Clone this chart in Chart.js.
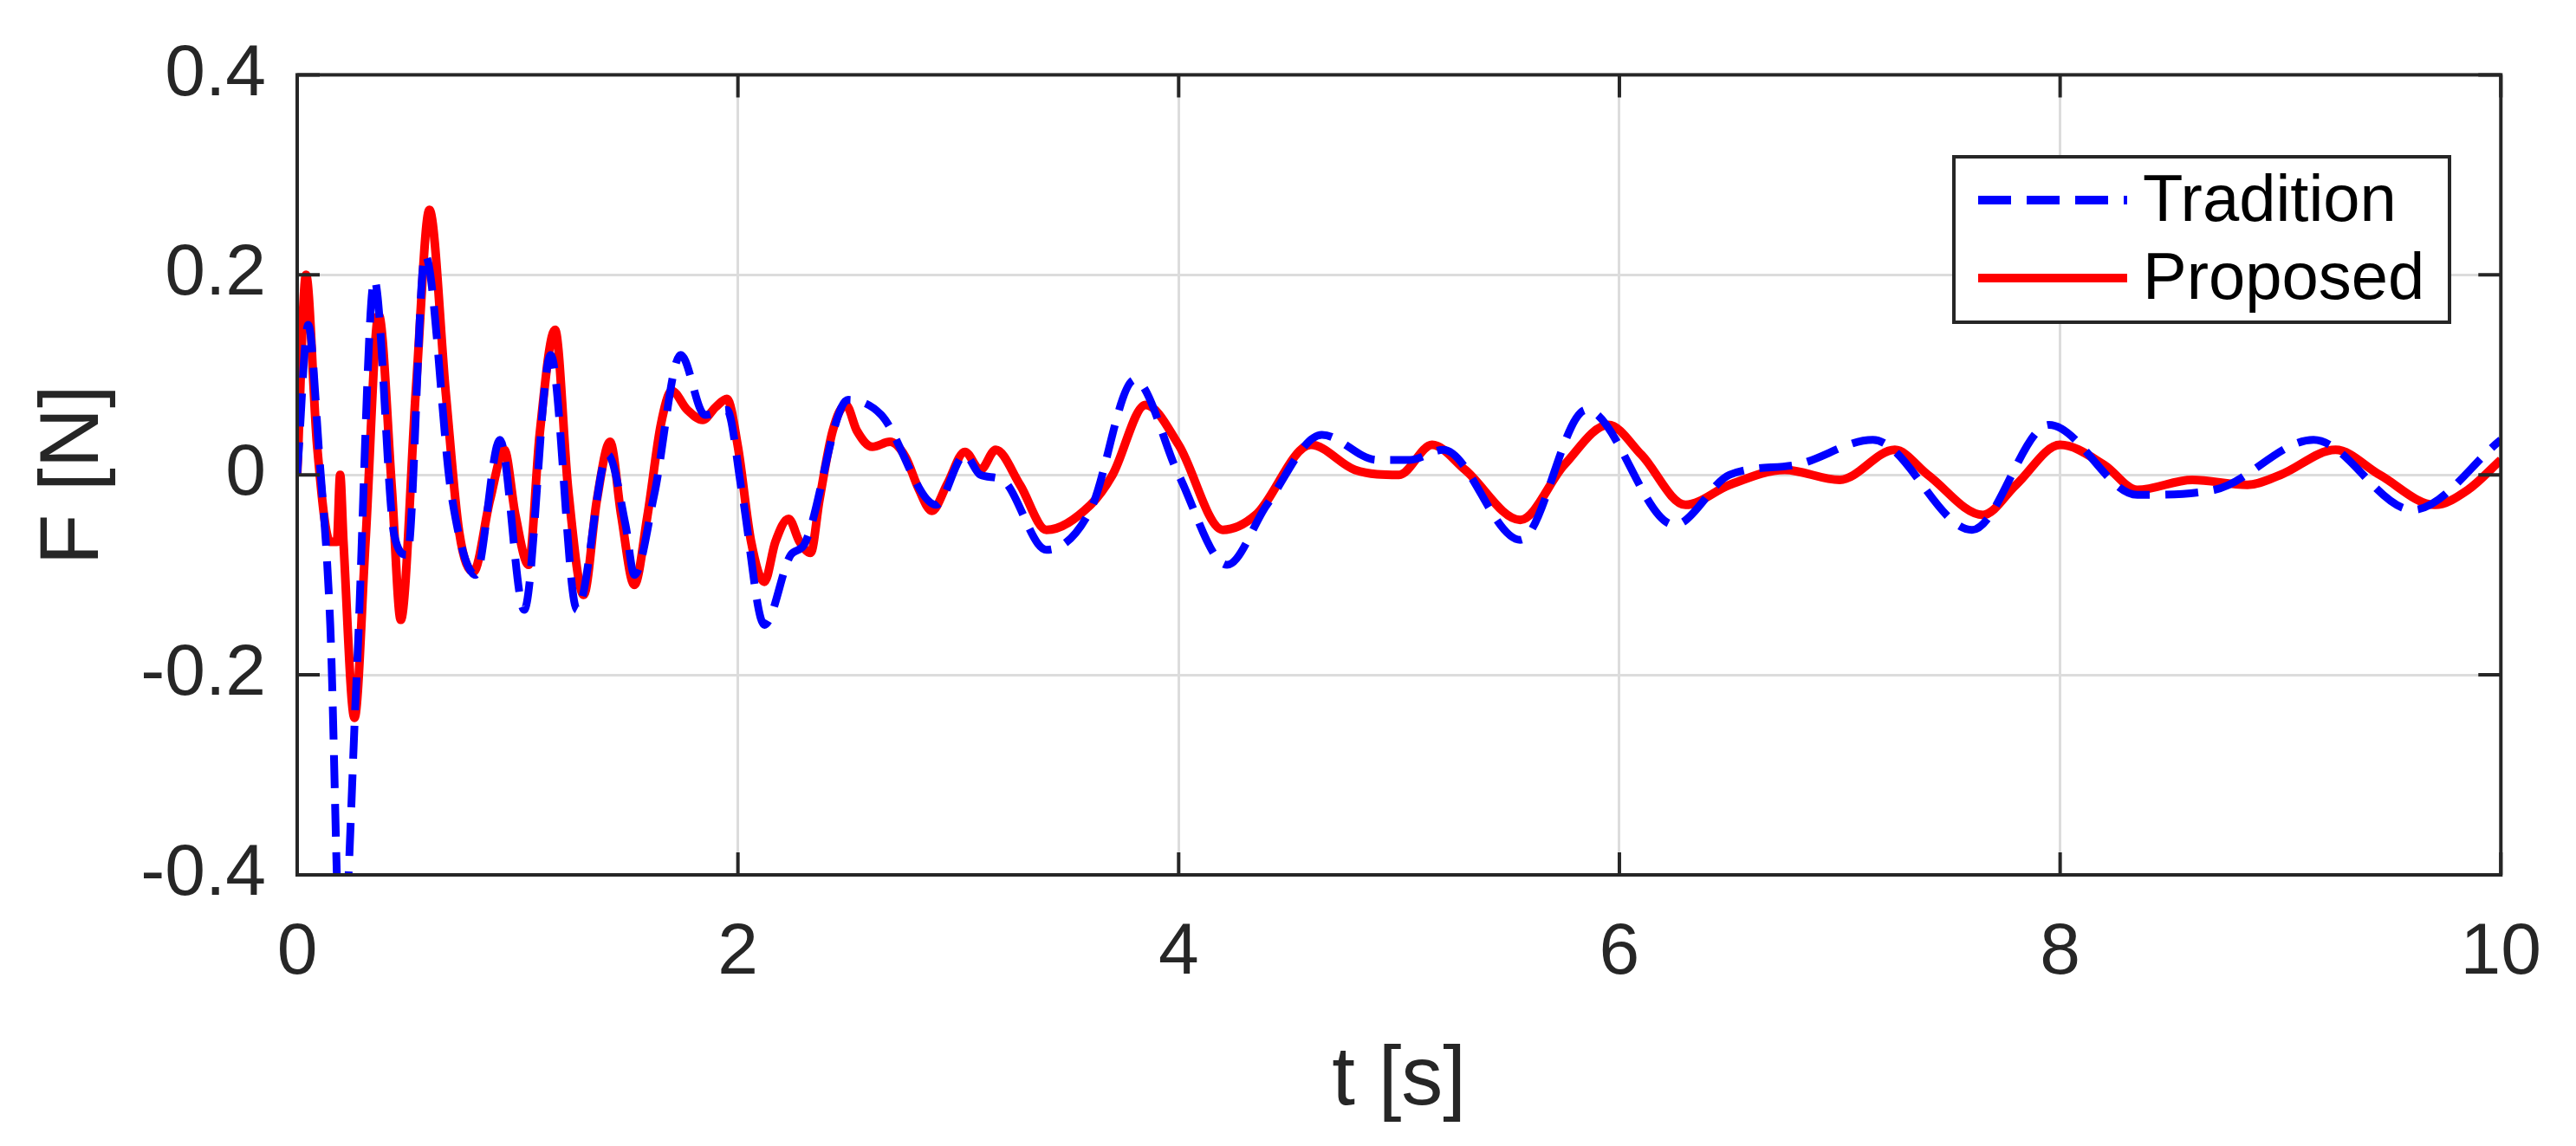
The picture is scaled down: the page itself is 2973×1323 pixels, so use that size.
<!DOCTYPE html>
<html>
<head>
<meta charset="utf-8">
<script src="https://cdn.jsdelivr.net/npm/chart.js@4/dist/chart.umd.min.js"></script>
<style>
  html, body { margin: 0; padding: 0; background: #fff; }
  #wrap { width: 2973px; height: 1323px; }
</style>
</head>
<body>
<div id="wrap"><canvas id="chart"></canvas></div>
<script>
// --- dados ---
const tProposed = [0, 0.04, 0.09, 0.15, 0.18, 0.195, 0.21, 0.26, 0.31, 0.37, 0.43, 0.47, 0.54, 0.60, 0.675, 0.735, 0.80, 0.875, 0.94, 0.99, 1.05, 1.10, 1.17, 1.23, 1.30, 1.36, 1.42, 1.47, 1.53, 1.59, 1.65, 1.70, 1.77, 1.84, 1.90, 1.95, 2.0, 2.06, 2.12, 2.17, 2.23, 2.28, 2.33, 2.37, 2.43, 2.49, 2.54, 2.61, 2.69, 2.76, 2.82, 2.88, 2.95, 3.03, 3.1, 3.17, 3.28, 3.4, 3.6, 3.7, 3.85, 4.0, 4.2, 4.35, 4.6, 4.8, 5.0, 5.15, 5.3, 5.55, 5.75, 5.95, 6.1, 6.3, 6.5, 6.75, 7.0, 7.25, 7.4, 7.65, 7.8, 8.0, 8.2, 8.35, 8.6, 8.85, 9.0, 9.25, 9.45, 9.7, 9.85, 10];
const fProposed = [0, 0.2, 0.03, -0.067, -0.067, 0, -0.067, -0.243, -0.067, 0.16, -0.015, -0.145, 0.09, 0.265, 0.08, -0.057, -0.097, -0.025, 0.025, -0.04, -0.09, 0.04, 0.145, -0.015, -0.12, -0.025, 0.033, -0.04, -0.11, -0.04, 0.05, 0.084, 0.065, 0.055, 0.068, 0.076, 0.028, -0.067, -0.107, -0.067, -0.044, -0.067, -0.078, -0.025, 0.044, 0.07, 0.044, 0.028, 0.033, 0.018, -0.014, -0.036, -0.009, 0.023, 0.005, 0.025, -0.01, -0.055, -0.03, 0.0, 0.07, 0.03, -0.055, -0.04, 0.03, 0.005, 0.0, 0.03, 0.005, -0.045, 0.01, 0.05, 0.02, -0.03, -0.01, 0.005, -0.005, 0.025, 0.0, -0.04, -0.01, 0.03, 0.01, -0.015, -0.005, -0.01, 0.0, 0.025, 0.0, -0.03, -0.015, 0.015];

const tTradition = [0, 0.05, 0.1, 0.15, 0.2, 0.27, 0.35, 0.44, 0.5, 0.58, 0.7, 0.81, 0.92, 1.03, 1.15, 1.27, 1.41, 1.49, 1.53, 1.62, 1.74, 1.85, 1.95, 2.02, 2.12, 2.24, 2.3, 2.5, 2.65, 2.9, 3.03, 3.1, 3.2, 3.4, 3.6, 3.8, 4.0, 4.22, 4.4, 4.65, 4.9, 5.05, 5.2, 5.55, 5.85, 6.25, 6.5, 6.8, 7.15, 7.6, 7.95, 8.35, 8.7, 9.15, 9.6, 10];
const fTradition = [0, 0.15, 0.02, -0.15, -0.5, -0.2, 0.195, -0.06, -0.08, 0.22, -0.02, -0.1, 0.035, -0.135, 0.12, -0.135, 0.02, -0.05, -0.1, -0.02, 0.12, 0.06, 0.065, -0.02, -0.15, -0.08, -0.07, 0.075, 0.06, -0.03, 0.02, 0.0, -0.005, -0.075, -0.035, 0.095, 0.0, -0.09, -0.03, 0.04, 0.015, 0.015, 0.025, -0.065, 0.065, -0.05, 0.0, 0.01, 0.035, -0.055, 0.05, -0.02, -0.015, 0.035, -0.035, 0.035];

const yTicks = [-0.4, -0.2, 0, 0.2, 0.4];
const xTicks = [0, 2, 4, 6, 8, 10];

const toPoints = (ts, fs) => ts.map((t, i) => ({ x: t, y: fs[i] }));

const FONT = '"Liberation Sans", Arial, sans-serif';
const INK = '#262626';

// moldura, marcas de escala e legenda estilo MATLAB
const boxPlugin = {
    id: 'boxPlugin',
    afterDraw(chart) {
        const { ctx, chartArea: a, scales } = chart;
        ctx.save();
        ctx.strokeStyle = INK;
        ctx.lineWidth = 4;
        ctx.strokeRect(a.left, a.top, a.right - a.left, a.bottom - a.top);
        const tl = 26;
        xTicks.forEach(v => {
            const px = scales.x.getPixelForValue(v);
            ctx.beginPath();
            ctx.moveTo(px, a.bottom); ctx.lineTo(px, a.bottom - tl);
            ctx.moveTo(px, a.top); ctx.lineTo(px, a.top + tl);
            ctx.stroke();
        });
        yTicks.forEach(v => {
            const py = scales.y.getPixelForValue(v);
            ctx.beginPath();
            ctx.moveTo(a.left, py); ctx.lineTo(a.left + tl, py);
            ctx.moveTo(a.right, py); ctx.lineTo(a.right - tl, py);
            ctx.stroke();
        });

        // legenda
        const lx = 2255, ly = 181, lw = 572, lh = 191;
        ctx.fillStyle = '#fff';
        ctx.fillRect(lx, ly, lw, lh);
        ctx.lineWidth = 4;
        ctx.strokeRect(lx, ly, lw, lh);
        const items = [
            { label: 'Tradition', color: '#0000ff', dash: [38, 18], y: ly + 50 },
            { label: 'Proposed', color: '#ff0000', dash: [], y: ly + 140 }
        ];
        items.forEach(it => {
            ctx.strokeStyle = it.color;
            ctx.lineWidth = 10;
            ctx.setLineDash(it.dash);
            ctx.beginPath();
            ctx.moveTo(lx + 28, it.y); ctx.lineTo(lx + 200, it.y);
            ctx.stroke();
            ctx.setLineDash([]);
            ctx.fillStyle = '#000';
            ctx.font = '76px ' + FONT;
            ctx.textBaseline = 'middle';
            ctx.fillText(it.label, lx + 218, it.y + 3);
        });
        ctx.restore();
    }
};

new Chart(document.getElementById('chart'), {
    type: 'line',
    data: {
        datasets: [
            {
                label: 'Tradition',
                data: toPoints(tTradition, fTradition),
                borderColor: '#0000ff',
                borderWidth: 9,
                borderDash: [38, 18],
                pointRadius: 0,
                cubicInterpolationMode: 'monotone'
            },
            {
                label: 'Proposed',
                data: toPoints(tProposed, fProposed),
                borderColor: '#ff0000',
                borderWidth: 10,
                pointRadius: 0,
                cubicInterpolationMode: 'monotone'
            }
        ]
    },
    options: {
        responsive: true,
        maintainAspectRatio: false,
        animation: false,
        devicePixelRatio: 1,
        layout: { padding: { top: 63, right: 57, left: 0, bottom: 0 } },
        plugins: { legend: { display: false }, tooltip: { enabled: false } },
        scales: {
            x: {
                type: 'linear',
                min: 0, max: 10,
                afterFit: s => { s.height = 313; },
                afterBuildTicks: s => { s.ticks = xTicks.map(v => ({ value: v })); },
                grid: { color: '#dcdcdc', lineWidth: 3, drawTicks: false },
                border: { display: false },
                ticks: { color: INK, font: { size: 84, family: FONT }, padding: 40, maxRotation: 0 },
                title: { display: true, text: 't [s]', color: INK, font: { size: 96, family: FONT }, padding: { top: 0, bottom: 17 } }
            },
            y: {
                min: -0.4, max: 0.4,
                afterFit: s => { s.width = 343; },
                afterBuildTicks: s => { s.ticks = yTicks.map(v => ({ value: v })); },
                grid: { color: '#dcdcdc', lineWidth: 3, drawTicks: false },
                border: { display: false },
                ticks: { color: INK, font: { size: 84, family: FONT }, padding: 36,
                         callback: v => (v === 0 ? '0' : String(v)) },
                title: { display: true, text: 'F [N]', color: INK, font: { size: 96, family: FONT }, padding: { top: 29, bottom: 0 } }
            }
        }
    },
    plugins: [boxPlugin]
});
</script>
</body>
</html>
